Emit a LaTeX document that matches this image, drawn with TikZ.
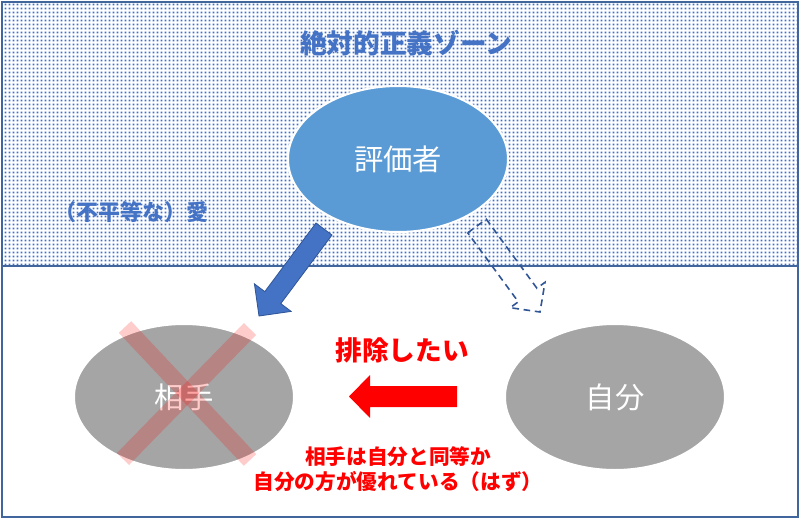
\documentclass[tikz,border=0pt]{standalone}
\usepackage{fontspec}
\setmainfont{Noto Sans CJK JP}
\usetikzlibrary{patterns,shapes.geometric}
\definecolor{framecol}{HTML}{41669E}
\definecolor{zoneblue}{HTML}{3F6FCC}
\definecolor{titleblue}{HTML}{4472C4}
\definecolor{evalfill}{HTML}{5B9BD5}
\definecolor{grayfill}{HTML}{A5A5A5}
\definecolor{dashblue}{HTML}{2F5597}
\definecolor{arrowblue}{HTML}{4472C4}
\pgfdeclarepatternformonly{zonedots}{\pgfpointorigin}{\pgfpoint{3pt}{3pt}}{\pgfpoint{3pt}{3pt}}{%
  \pgfpathrectangle{\pgfpoint{0.6pt}{0.7pt}}{\pgfpoint{1.7pt}{1.55pt}}%
  \pgfusepath{fill}%
}
\begin{document}
\begin{tikzpicture}[x=0.75pt,y=-0.75pt,
  ell/.style={ellipse, minimum width=165pt, minimum height=109.5pt, inner sep=0pt,
    draw=white, line width=1.5pt, text=white, font=\fontsize{22}{26}\selectfont},
  zonetext/.style={text=titleblue, font=\bfseries\fontsize{#1}{#1}\selectfont},
  redtext/.style={text=red, font=\bfseries\fontsize{#1}{#1}\selectfont},
  xline/.style={draw=red, draw opacity=0.2, line width=12.75pt},
  framestyle/.style={draw=framecol, line width=1.5pt}]
\useasboundingbox (0,0) rectangle (800,518);
% zone pattern
\fill[pattern=zonedots, pattern color=zoneblue] (2,2) rectangle (798,266);
% frame
\draw[framestyle] (2,2) rectangle (798,517);
\draw[framestyle] (2,266) -- (798,266);
% title texts
\node[zonetext=20] (title) at (406,43) {絶対的正義ゾーン};
\node[zonetext=16.5] (love) at (131,212) {（不平等な）愛};
% ellipses
\node[ell, fill=evalfill] (eval) at (398,159) {評価者};
\node[ell, fill=grayfill] (other) at (184,397) {相手};
\node[ell, fill=grayfill] (self) at (615,397) {自分};
% blue block arrow
\fill[arrowblue, draw=dashblue, line width=0.6pt]
  (316,223) -- (332,235) -- (280.8,303.6) -- (291.2,311.4) -- (259,316)
  -- (254.4,283.8) -- (264.8,291.6) -- cycle;
% dashed outline arrow
\draw[dashblue, line width=1.2pt, dash pattern=on 5pt off 3.5pt, line join=miter]
  (467.7,232.8) -- (486.3,219.2) -- (536.9,288.2) -- (545.0,282.3) -- (540,312)
  -- (510.2,307.7) -- (518.3,301.8) -- cycle;
% red arrow
\fill[red] (457,386) -- (370,386) -- (370,375) -- (349,396.5) -- (370,418)
  -- (370,407) -- (457,407) -- cycle;
% red X
\draw[xline] (125,327) -- (250,460);
\draw[xline] (250,329) -- (123,459);
% red texts
\node[redtext=20] (excl) at (402,350) {排除したい};
\node[redtext=15.5, align=center] (note) at (398,469) {相手は自分と同等か\\[3pt]自分の方が優れている（はず）};
\end{tikzpicture}
\end{document}
